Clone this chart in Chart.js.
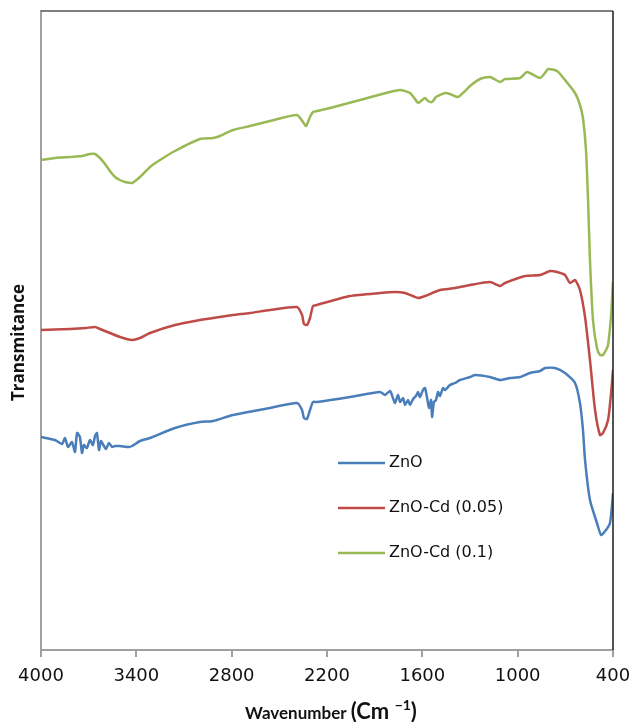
<!DOCTYPE html>
<html>
<head>
<meta charset="utf-8">
<script src="https://cdn.jsdelivr.net/npm/chart.js@4/dist/chart.umd.min.js"></script>
<style>
  html, body { margin: 0; padding: 0; background: #fff; }
  #wrap { width: 632px; height: 722px; }
</style>
</head>
<body>
<div id="wrap"><canvas id="ftir" width="632" height="722"></canvas></div>
<script>
// series names and colours
const seriesNames = ['ZnO', 'ZnO-Cd (0.05)', 'ZnO-Cd (0.1)'];
const seriesColors = ['#4a7ebb', '#be4b48', '#98b954'];

// x tick values (cm-1)
const xTicks = [4000, 3400, 2800, 2200, 1600, 1000, 400];

// ZnO (blue)
const znoWn = [4000, 3912, 3868, 3849, 3830, 3805, 3786, 3773, 3755, 3742, 3730, 3711, 3692, 3673, 3660, 3648, 3635, 3623, 3604, 3591, 3572, 3553, 3534, 3503, 3446, 3427, 3377, 3314, 3157, 3000, 2917, 2792, 2559, 2389, 2357, 2345, 2326, 2307, 2288, 2263, 2055, 1866, 1835, 1803, 1785, 1772, 1753, 1740, 1721, 1709, 1690, 1678, 1658, 1640, 1627, 1615, 1596, 1583, 1570, 1558, 1545, 1539, 1527, 1514, 1501, 1489, 1470, 1457, 1426, 1394, 1363, 1300, 1268, 1174, 1111, 1048, 985, 922, 859, 828, 765, 702, 639, 608, 589, 576, 545, 501, 475, 444, 419, 406, 400];
const znoT = [21.3, 21.0, 20.6, 21.2, 20.3, 20.8, 19.8, 21.7, 21.3, 19.7, 20.5, 20.2, 21.0, 20.5, 21.4, 21.7, 20.0, 20.9, 20.4, 20.1, 20.7, 20.3, 20.4, 20.4, 20.3, 20.4, 20.9, 21.2, 22.2, 22.8, 22.9, 23.5, 24.2, 24.7, 24.0, 23.2, 23.1, 24.0, 24.8, 24.8, 25.3, 25.8, 25.5, 25.9, 25.2, 24.7, 25.5, 24.8, 25.2, 24.5, 25.0, 24.5, 25.1, 25.4, 25.8, 25.3, 26.0, 26.2, 25.2, 24.2, 25.0, 23.3, 24.8, 25.0, 25.8, 25.4, 26.2, 26.0, 26.5, 26.7, 27.0, 27.3, 27.5, 27.3, 27.0, 27.2, 27.3, 27.7, 27.9, 28.2, 28.2, 27.7, 26.7, 24.7, 22.0, 19.0, 15.0, 12.7, 11.5, 12.0, 12.7, 14.5, 15.7];

// ZnO-Cd (0.05) (red)
const cd005Wn = [4000, 3912, 3817, 3717, 3660, 3629, 3566, 3503, 3427, 3377, 3314, 3157, 3000, 2917, 2792, 2685, 2559, 2389, 2357, 2345, 2326, 2307, 2288, 2263, 2055, 1866, 1772, 1709, 1627, 1583, 1489, 1394, 1300, 1174, 1111, 1080, 954, 859, 796, 752, 702, 671, 639, 608, 576, 545, 513, 482, 463, 431, 412, 400];
const cd005T = [32.0, 32.05, 32.1, 32.2, 32.3, 32.1, 31.7, 31.3, 31.0, 31.2, 31.7, 32.5, 33.0, 33.2, 33.5, 33.7, 34.0, 34.3, 33.5, 32.6, 32.5, 33.2, 34.4, 34.5, 35.4, 35.7, 35.8, 35.7, 35.2, 35.4, 36.0, 36.2, 36.5, 36.8, 36.4, 36.7, 37.4, 37.5, 37.9, 37.8, 37.5, 36.7, 37.0, 36.0, 33.3, 29.0, 24.0, 21.5, 21.7, 23.0, 25.7, 28.0];

// ZnO-Cd (0.1) (green)
const cd01Wn = [4000, 3912, 3868, 3817, 3742, 3692, 3660, 3629, 3597, 3566, 3534, 3503, 3471, 3427, 3377, 3314, 3251, 3157, 3000, 2917, 2873, 2792, 2685, 2559, 2389, 2351, 2332, 2307, 2288, 2263, 2181, 1992, 1803, 1740, 1678, 1646, 1627, 1583, 1564, 1539, 1514, 1489, 1457, 1426, 1375, 1331, 1300, 1237, 1174, 1111, 1080, 985, 941, 859, 828, 809, 752, 702, 639, 608, 589, 570, 557, 545, 526, 501, 482, 463, 444, 431, 412, 400];
const cd01T = [49.0, 49.2, 49.25, 49.3, 49.4, 49.6, 49.6, 49.2, 48.6, 47.9, 47.3, 47.0, 46.8, 46.7, 47.3, 48.3, 49.0, 49.9, 51.1, 51.2, 51.4, 52.0, 52.4, 52.9, 53.5, 52.8, 52.4, 53.3, 53.8, 53.9, 54.2, 55.0, 55.8, 56.0, 55.7, 55.1, 54.7, 55.2, 54.9, 54.8, 55.3, 55.5, 55.7, 55.6, 55.3, 55.9, 56.4, 57.1, 57.3, 56.8, 57.1, 57.2, 57.8, 57.2, 57.7, 58.1, 57.9, 57.0, 55.7, 54.5, 53.2, 50.0, 45.0, 39.0, 33.0, 30.2, 29.5, 29.5, 30.0, 30.5, 33.5, 36.8];

function toPoints(xs, ys) {
    return xs.map((x, i) => ({ x: x, y: ys[i] }));
}

const wnSets = [znoWn, cd005Wn, cd01Wn];
const tSets = [znoT, cd005T, cd01T];

// frame, legend and axis titles
const decorPlugin = {
    id: 'decor',
    afterDraw(chart) {
        const ctx = chart.ctx;
        const a = chart.chartArea;
        ctx.save();

        // top and right frame
        ctx.strokeStyle = '#555';
        ctx.lineWidth = 1.5;
        ctx.beginPath();
        ctx.moveTo(a.left, a.top);
        ctx.lineTo(a.right, a.top);
        ctx.stroke();
        ctx.strokeStyle = '#1a1a1a';
        ctx.beginPath();
        ctx.moveTo(a.right, a.top);
        ctx.lineTo(a.right, a.bottom);
        ctx.stroke();

        // legend inside plot
        const lx = a.left + 297;
        const ly = a.top + 452;
        ctx.font = '16px "DejaVu Sans"';
        ctx.textBaseline = 'middle';
        ctx.textAlign = 'left';
        seriesNames.forEach((name, i) => {
            const y = ly + i * 45;
            ctx.strokeStyle = seriesColors[i];
            ctx.lineWidth = 2.5;
            ctx.beginPath();
            ctx.moveTo(lx, y);
            ctx.lineTo(lx + 47, y);
            ctx.stroke();
            ctx.fillStyle = '#111';
            ctx.fillText(name, lx + 51, y);
        });

        // y title
        ctx.save();
        ctx.translate(19, (a.top + a.bottom) / 2 + 12);
        ctx.rotate(-Math.PI / 2);
        ctx.font = 'bold 17px "Open Sans"';
        ctx.textAlign = 'center';
        ctx.textBaseline = 'middle';
        ctx.fillStyle = '#111';
        ctx.fillText('Transmitance', 0, 0);
        ctx.restore();

        // x title with mixed sizes
        const p1 = 'Wavenumber ';
        const p2 = '(Cm ';
        const p3 = '\u22121';
        const p4 = ')';
        ctx.textBaseline = 'alphabetic';
        ctx.fillStyle = '#111';
        const f1 = 'bold 17px Lato';
        const f2 = 'bold 22px Lato';
        const f3 = 'bold 14px Lato';
        ctx.font = f1; const w1 = ctx.measureText(p1).width;
        ctx.font = f2; const w2 = ctx.measureText(p2).width; const w4 = ctx.measureText(p4).width;
        ctx.font = f3; const w3 = ctx.measureText(p3).width;
        let x = 331 - (w1 + w2 + w3 + w4) / 2;
        const base = 719;
        ctx.font = f1; ctx.fillText(p1, x, base); x += w1;
        ctx.font = f2; ctx.fillText(p2, x, base); x += w2;
        ctx.font = f3; ctx.fillText(p3, x, base - 9); x += w3;
        ctx.font = f2; ctx.fillText(p4, x, base);
        ctx.restore();
    }
};

const chart = new Chart(document.getElementById('ftir').getContext('2d'), {
    type: 'line',
    data: {
        datasets: seriesNames.map((name, i) => ({
            label: name,
            data: toPoints(wnSets[i], tSets[i]),
            borderColor: seriesColors[i],
            backgroundColor: seriesColors[i],
            borderWidth: 2.5,
            pointRadius: 0,
            tension: 0.2,
            borderJoinStyle: 'round',
            fill: false
        }))
    },
    options: {
        responsive: false,
        animation: false,
        layout: { padding: { top: 11, right: 19, left: 0, bottom: 0 } },
        plugins: {
            legend: { display: false },
            tooltip: { enabled: false }
        },
        scales: {
            x: {
                type: 'linear',
                reverse: true,
                min: 400,
                max: 4000,
                afterFit(scale) {
                    scale.height = 72;
                    scale.paddingLeft = 0;
                    scale.paddingRight = 0;
                },
                afterBuildTicks(scale) { scale.ticks = xTicks.map(v => ({ value: v })); },
                grid: { drawOnChartArea: false, drawTicks: true, tickLength: 7, color: '#a0a0a0', lineWidth: 2 },
                border: { color: '#a0a0a0', width: 2 },
                ticks: {
                    autoSkip: false,
                    maxRotation: 0,
                    padding: 9,
                    color: '#111',
                    font: { family: 'DejaVu Sans', size: 18 },
                    callback: v => String(v)
                }
            },
            y: {
                type: 'linear',
                min: 0,
                max: 63.9,
                afterFit(scale) { scale.width = 41; },
                grid: { display: false },
                border: { color: '#a0a0a0', width: 2 },
                ticks: { display: false }
            }
        }
    },
    plugins: [decorPlugin]
});
</script>
</body>
</html>
